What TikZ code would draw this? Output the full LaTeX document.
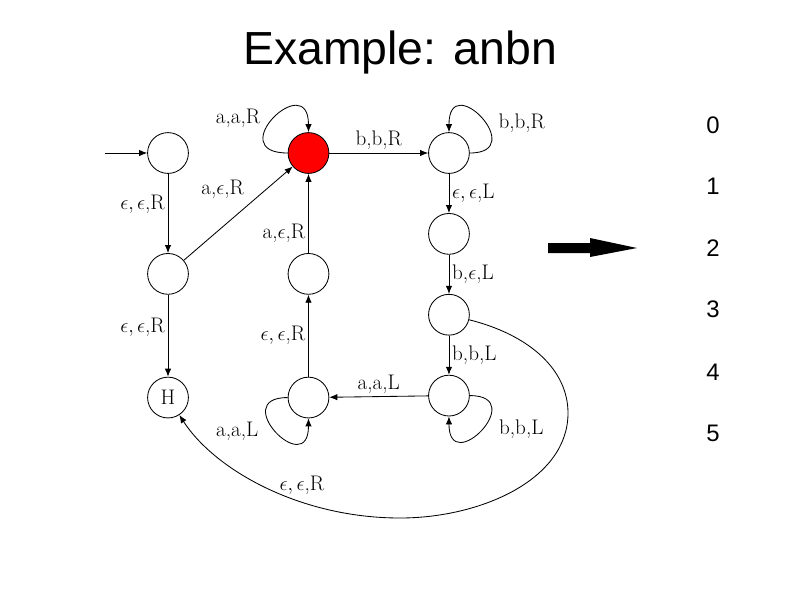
\documentclass[tikz,border=0pt]{standalone}
\usepackage{fontspec}
\newfontfamily\arialfont{Liberation Sans}
\usepackage{tikz}
\usetikzlibrary{
    arrows.meta,
    positioning
}
\tikzset{
    state/.style={
        circle,
        draw=black,
        semithick,
        minimum size=1.02cm,
        inner sep=0pt,
        font=\fontsize{15}{17}\selectfont
    },
    current/.style={
        state,
        fill=red
    },
    arrow/.style={
        -{Latex[length=2mm,width=1.6mm]},
        semithick
    },
    lbl/.style={
        font=\fontsize{15}{17}\selectfont,
        inner sep=2pt
    },
    title/.style={
        font=\arialfont\fontsize{33}{38}\selectfont
    },
    tape/.style={
        font=\arialfont\fontsize{17}{20}\selectfont
    }
}
\begin{document}
\begin{tikzpicture}[x=0.025cm, y=-0.025cm]
\useasboundingbox (0,0) rectangle (800,600);

\node[title] (head) at (400,52) {Example: anbn};

\node[state] (q0) at (168,153) {};
\node[current, right=2.47cm of q0] (q1) {};
\node[state, right=2.47cm of q1] (q2) {};
\node[state, below=0.98cm of q2] (q3) {};
\node[state, below=0.98cm of q3] (q4) {};
\node[state, below=0.98cm of q4] (q5) {};
\node[state, below=1.98cm of q0] (q8) {};
\node[state, below=2.05cm of q8] (halt) {H};
\node[state, below=1.98cm of q1] (q7) {};
\node[state, below=2.05cm of q7] (q6) {};
\coordinate (start) at (105,153);

\draw[arrow] (start) -- (q0);
\draw[arrow] (q0) -- node[lbl, pos=0.38, left] {$\epsilon,\epsilon$,R} (q8);
\draw[arrow] (q8) -- node[lbl, pos=0.4, left] {$\epsilon,\epsilon$,R} (halt);
\draw[arrow] (q8) -- node[lbl, pos=0.6, above left=2pt] {a,$\epsilon$,R} (q1);
\draw[arrow] (q7) -- node[lbl, pos=0.25, left] {a,$\epsilon$,R} (q1);
\draw[arrow] (q6) -- node[lbl, left] {$\epsilon,\epsilon$,R} (q7);
\draw[arrow] (q1) -- node[lbl, above] {b,b,R} (q2);
\draw[arrow] (q2) -- node[lbl, right] {$\epsilon,\epsilon$,L} (q3);
\draw[arrow] (q3) -- node[lbl, right] {b,$\epsilon$,L} (q4);
\draw[arrow] (q4) -- node[lbl, right] {b,b,L} (q5);
\draw[arrow] (q5) -- node[lbl, above] {a,a,L} (q6);

\draw[arrow] (q1.west) .. controls +(-66,0) and +(0,-64) .. node[lbl, pos=0.5, left=7pt] {a,a,R} (q1.north);
\draw[arrow] (q2.east) .. controls +(60,0) and +(0,-64) .. node[lbl, pos=0.45, right=7pt] {b,b,R} (q2.north);
\draw[arrow] (q5.east) .. controls +(60,0) and +(0,62) .. node[lbl, pos=0.5, right=10pt] {b,b,L} (q5.south);
\draw[arrow] (q6.west) .. controls +(-60,0) and +(0,62) .. node[lbl, pos=0.5, left=10pt] {a,a,L} (q6.south);

\draw[arrow] (q4) .. controls (530,335) and (568,370) .. (568,413)
    .. controls (568,480) and (480,518) .. (400,518)
    .. controls (300,518) and (215,470) .. node[lbl, pos=0.35, above=3pt] {$\epsilon,\epsilon$,R} (halt);

\fill (548,243) -- (590,243) -- (590,238) -- (637,248) -- (590,257) -- (590,253) -- (548,253) -- cycle;

\foreach \n/\y in {0/125, 1/186, 2/248, 3/309, 4/372, 5/433}
    \node[tape] (cell\n) at (713,\y) {\n};
\end{tikzpicture}
\end{document}
